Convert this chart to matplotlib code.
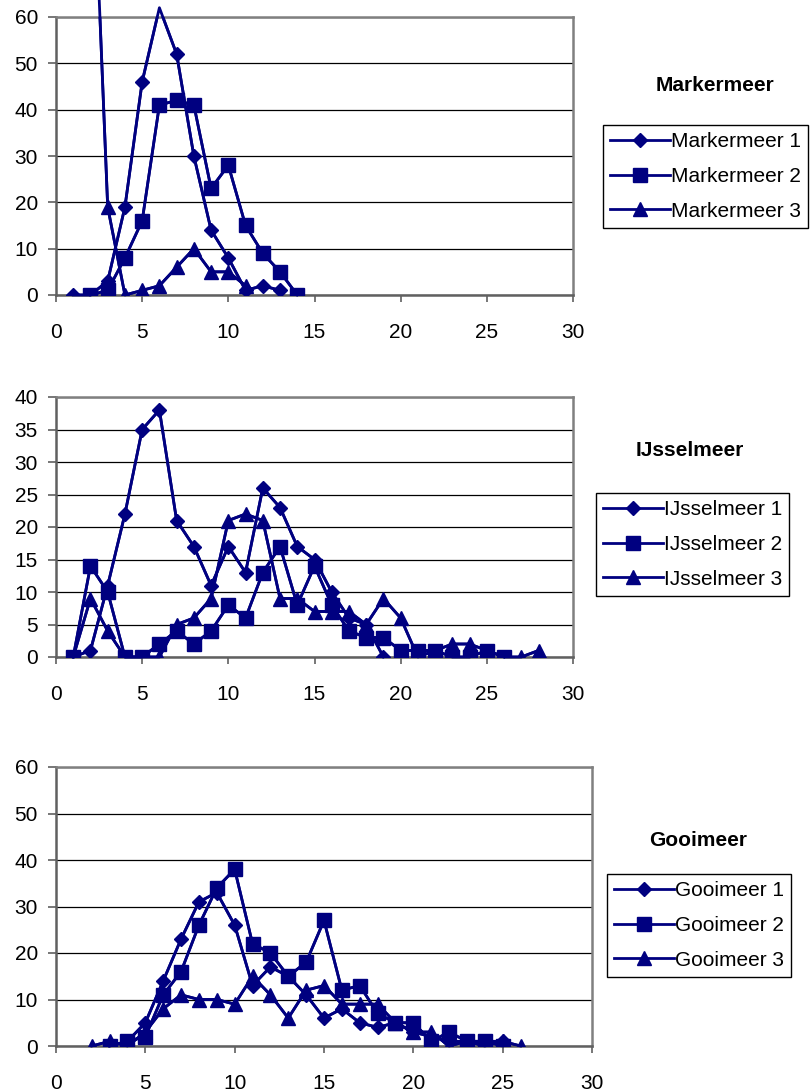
import matplotlib
matplotlib.use('Agg')
import matplotlib.pyplot as plt

plt.rcParams['font.family'] = ['Liberation Sans', 'DejaVu Sans']

NAVY = "#000080"

# Markermeer
mm1_x = list(range(1, 14))
mm1_y = [0, 0, 3, 19, 46, 62, 52, 30, 14, 8, 1, 2, 1]
mm2_x = list(range(2, 15))
mm2_y = [0, 1, 8, 16, 41, 42, 41, 23, 28, 15, 9, 5, 0]
mm3_x = list(range(2, 12))
mm3_y = [110, 19, 0, 1, 2, 6, 10, 5, 5, 2]

# IJsselmeer
ij1_x = list(range(1, 20))
ij1_y = [0, 1, 11, 22, 35, 38, 21, 17, 11, 17, 13, 26, 23, 17, 15, 10, 6, 5, 0]
ij2_x = list(range(1, 27))
ij2_y = [0, 14, 10, 0, 0, 2, 4, 2, 4, 8, 6, 13, 17, 8, 14, 8, 4, 3, 3, 1,
         1, 1, 0, 0, 1, 0]
ij3_x = list(range(1, 29))
ij3_y = [0, 9, 4, 0, 0, 0, 5, 6, 9, 21, 22, 21, 9, 9, 7, 7, 7, 5, 9, 6,
         0, 1, 2, 2, 1, 0, 0, 1]

# Gooimeer
go1_x = list(range(3, 26))
go1_y = [0, 1, 5, 14, 23, 31, 33, 26, 13, 17, 15, 11, 6, 8, 5, 4, 5, 3,
         2, 1, 1, 0, 1]
go2_x = list(range(3, 26))
go2_y = [0, 1, 2, 11, 16, 26, 34, 38, 22, 20, 15, 18, 27, 12, 13, 7, 5, 5,
         1, 3, 1, 1, 0]
go3_x = list(range(2, 27))
go3_y = [0, 1, 0, 3, 8, 11, 10, 10, 9, 15, 11, 6, 12, 13, 9, 9, 9, 5, 3,
         3, 0, 1, 1, 1, 0]

markers = ["D", "s", "^"]
msizes = [7, 10, 10]
FS = 15

W, H = 812, 1092
fig = plt.figure(figsize=(W / 100, H / 100), dpi=100)
fig.patch.set_facecolor("white")


def px_axes(left, top, right, bottom):
    return fig.add_axes([left / W, 1 - bottom / H, (right - left) / W, (bottom - top) / H])


panels = [
    {"name": "Markermeer", "box": (56, 17, 573, 295), "ymax": 60, "ystep": 10,
     "series": [(mm1_x, mm1_y), (mm2_x, mm2_y), (mm3_x, mm3_y)],
     "title_xy": (715, 86), "leg_xy": (603, 125)},
    {"name": "IJsselmeer", "box": (56, 397, 573, 657), "ymax": 40, "ystep": 5,
     "series": [(ij1_x, ij1_y), (ij2_x, ij2_y), (ij3_x, ij3_y)],
     "title_xy": (690, 451), "leg_xy": (596, 493)},
    {"name": "Gooimeer", "box": (56, 767, 592, 1046), "ymax": 60, "ystep": 10,
     "series": [(go1_x, go1_y), (go2_x, go2_y), (go3_x, go3_y)],
     "title_xy": (698, 841), "leg_xy": (607, 874)},
]

for p in panels:
    ax = px_axes(*p["box"])
    for i, (xs, ys) in enumerate(p["series"]):
        # markers + line, clipped to plot area
        ax.plot(xs, ys, color=NAVY, linewidth=2.0, marker=markers[i],
                markersize=msizes[i], markerfacecolor=NAVY,
                markeredgecolor=NAVY, label=f"{p['name']} {i + 1}", zorder=3)
        # line alone may run past the top of the plot area
        ax.plot(xs, ys, color=NAVY, linewidth=2.0, clip_on=False, zorder=3)

    ax.set_xlim(0, 30)
    ax.set_ylim(0, p["ymax"])
    ax.set_xticks(range(0, 31, 5))
    ax.set_yticks(range(0, p["ymax"] + 1, p["ystep"]))
    ax.tick_params(axis="x", direction="out", length=5, width=1.2,
                   color="#606060", labelsize=FS, pad=15)
    ax.tick_params(axis="y", direction="out", length=6, width=1.2,
                   color="#606060", labelsize=FS, pad=7)
    ax.grid(axis="y", color="black", linewidth=0.9)
    ax.set_axisbelow(True)
    for side in ["top", "right"]:
        ax.spines[side].set_color("#808080")
        ax.spines[side].set_linewidth(1.8)
    for side in ["left", "bottom"]:
        ax.spines[side].set_color("#606060")
        ax.spines[side].set_linewidth(1.8)
    ax.set_facecolor("white")

    tx, ty = p["title_xy"]
    fig.text(tx / W, 1 - ty / H, p["name"], fontsize=FS, fontweight="bold",
             ha="center", va="center")

    lx, ly = p["leg_xy"]
    leg = ax.legend(loc="upper left", bbox_to_anchor=(lx / W, 1 - ly / H),
                    bbox_transform=fig.transFigure, borderaxespad=0,
                    fontsize=FS, frameon=True, fancybox=False,
                    framealpha=1, edgecolor="black", handlelength=2.85,
                    handletextpad=0.05, labelspacing=0.75, borderpad=0.35)
    leg.get_frame().set_linewidth(1.0)

plt.savefig("out.png", dpi=100, facecolor="white")
plt.close()
